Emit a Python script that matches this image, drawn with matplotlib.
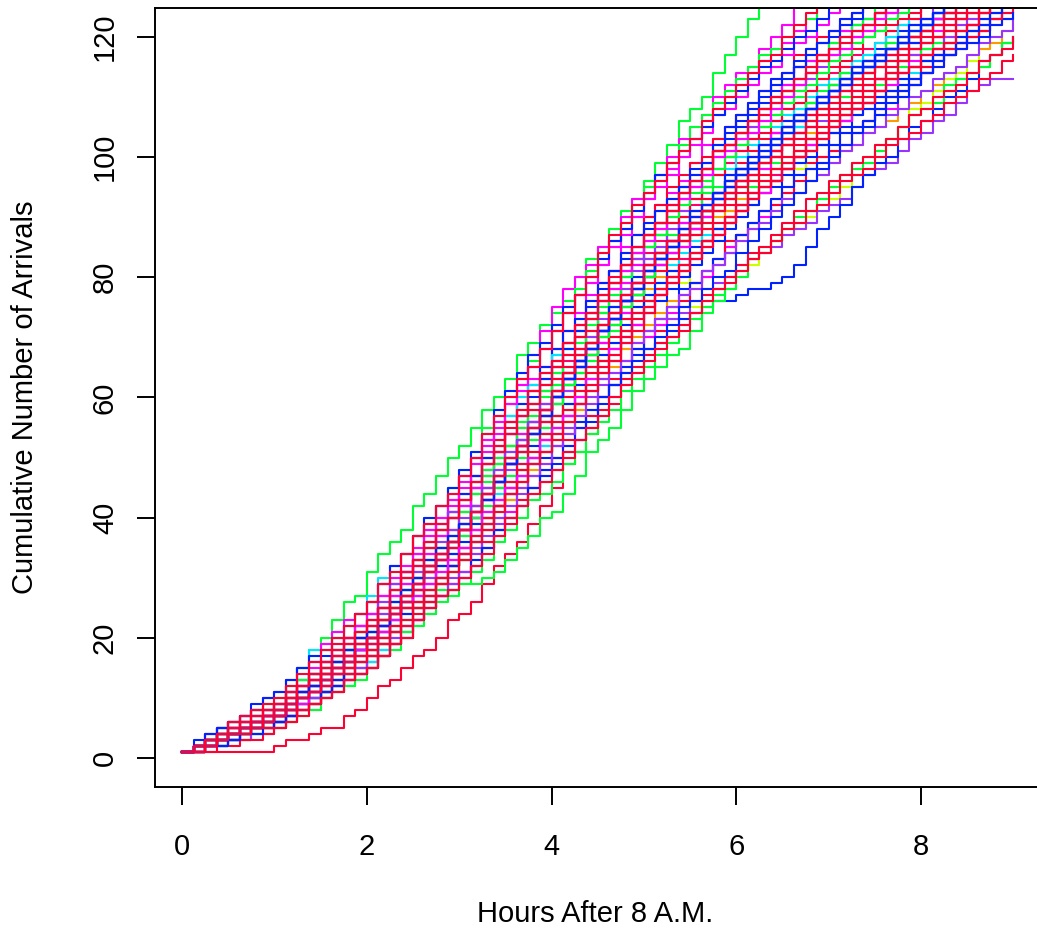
import numpy as np
import matplotlib
matplotlib.use('Agg')
from matplotlib import pyplot as plt

plt.rcParams['font.family'] = ['Liberation Sans', 'DejaVu Sans']

# arrivals in each eighth of an hour, one group of 8 digits per hour (0-9 h after 8 A.M.)
green_runs = [
    "11210211 23323314 32242332 33234232 24323323 33422433 32221321 12112102 21121121",
    "10110111 21122122 11120211 01122231 33422332 22133222 31221222 21122221 12211221",
    "01111120 21122212 23223223 42332332 23323323 13223121 12222221 12112111 11211112",
    "11101102 22211231 22233223 33322433 42233223 22133222 21221312 12112111 21111211",
    "10110111 12211221 22233132 23323324 32233323 22132221 22123121 12211211 21111211",
    "11011011 12211222 22233223 33422333 32232213 22123121 12211221 21122112 12211221",
    "01010101 11121112 22232232 33432333 33332333 23222322 22122212 21112111 12111211",
    "11011111 12222121 32223323 33233423 32323332 23221322 21222122 12112111 21111211",
    "11111111 22122122 23232322 33332333 32333233 22322312 22212222 12121221 21121111",
    "01110100 11211121 21222212 22322312 32322322 22312213 22122122 22121221 22111221",
    "11111111 22111221 22322312 23332332 33232323 32222222 21222212 21121112 21121111",
    "11121111 23212222 32333233 34333233 33332333 22332222 22122122 12121221 11211121",
]
magenta_runs = [
    "01112011 12223113 23334234 33433444 32231432 23322322 13223112 21122112 11211102",
    "11011110 12211222 23223213 33234233 23323323 22133122 21221221 12211102 21111211",
    "01211111 22123122 32233233 24334223 33322423 22233122 13211222 21111211 12110221",
    "01111001 11022112 21221322 32232232 23322332 22321322 21223112 12211222 21122112",
    "11111001 12211222 31233223 33234233 33243233 23322322 13223112 21122111 11211102",
    "01101111 21122221 22322313 23334232 33233224 22311322 22211222 12112112 11211102",
    "01111111 22122212 23322332 33333423 33232332 23222312 22212221 21121112 11211111",
    "11111111 22212222 33232333 33343333 33233323 32232322 22212221 21121112 11211111",
    "10111110 12122121 22332232 32333232 33223233 22132221 21221221 12112211 21111121",
    "11110111 21122112 22332222 33233233 32332323 23212222 12222221 21121112 12111211",
    "12101111 21221212 32232332 34233233 23332332 23222312 12222221 12121221 21121111",
    "12111121 22132212 33232323 33333333 33233233 22322312 22122122 21121112 11211121",
    "10111011 11212121 32222222 33222332 23323223 23212222 21222212 12121221 11212121",
]
blue_runs = [
    "11121011 22311222 32234123 33243233 23333223 32221322 22213112 21111211 12112111",
    "01111001 21111221 22132322 31232232 22132231 12211101 10112332 23221321 22123121",
    "01112011 11122122 31222332 23333224 33233233 22321222 13222112 21122111 11121111",
    "11201201 21221322 23223233 33342333 32332332 22231332 22212212 21111211 12112111",
    "10011110 11211211 22123122 13322332 23322333 22312213 22222113 21122112 12211221",
    "11011011 21122212 22233132 33322333 24322332 22123122 21221222 12211112 21111211",
    "01111011 21122122 13232232 23332432 32332342 22132231 12222112 21121121 12211211",
    "10011111 12211221 22312322 32233323 23322332 22131222 21122112 12112111 21111211",
    "10111011 21212122 22332322 33332332 32333223 22231222 22122121 12112112 21111211",
    "11110111 22212122 32233232 34233332 33323323 23322322 22212221 21211121 11121111",
    "11011011 12111211 22322312 23323223 32232332 22222222 22122122 22111221 12121221",
    "01111111 12212221 23223222 23332332 32332323 23212222 21222212 22111221 12112121",
    "21111211 22212222 33233233 33433323 32333233 32222222 22122122 12121221 11211121",
    "10011011 11121111 22132212 32322322 22333222 22312213 22222222 22122122 21221212",
    "11101111 12121221 23223222 32333233 33232323 22222222 12222221 12112121 21121111",
]
red_runs = [
    "00000001 10110212 21221231 23322333 42332324 32232232 13223112 21122112 12112111",
    "10110210 21122221 13322332 33234223 32332324 22311222 13212212 21111202 12112111",
    "11100111 12222112 32132322 33233233 24322332 22233132 22121321 21122112 12112111",
    "11021111 12223121 23323323 33244233 32332333 23221322 22123121 12112111 11121121",
    "01100111 11121121 12223122 23223223 32233332 22132231 22122221 12222122 21122112",
    "01111110 21122122 23223132 23334232 32233323 22132221 22123121 12112112 21111211",
    "01110211 12212212 22322333 42233332 23332432 22132231 21221222 12211111 21111211",
    "10110110 11122122 22311323 32233233 23322332 22132221 12222112 21121112 21111211",
    "01111011 12222112 22133223 23333224 32233223 22211312 21122112 12112111 11121121",
    "11101111 21222122 32332323 33423323 32332323 22322312 21221221 12112111 11211112",
    "00101011 11211211 22322332 33243233 33232333 22312222 22122122 21121112 21111211",
    "01111101 21221112 23223223 33232333 32332323 22312221 22121222 21121121 12111211",
    "11111011 21222221 33223323 33342332 33233232 23222312 22212221 21121112 11211111",
    "10101101 11121111 22132212 23223222 23232322 21223122 21222212 12121221 21122112",
    "11121111 22222222 32332323 34333233 33343232 23223222 22132212 22111221 11211121",
    "10111011 12112121 22312213 32322322 33232323 32222222 22122122 21122112 11212121",
    "11110111 22111221 32223222 33332333 33232323 22122122 12121221 12112121 11211121",
    "11011011 21121111 22222222 32332323 23332332 23222312 22212222 12121221 12112121",
    "11111111 21222212 23323223 33233233 23333332 22322312 22122122 12121221 12111211",
    "01110100 12111211 22132212 22332222 32223222 22132212 21221212 21122112 12112121",
]
pink_runs = [
    "01101101 12112112 22311332 23322332 32233323 22133122 22122221 21122112 12112111",
    "11101111 21212221 23232233 33323332 32332332 23212322 22121221 12112112 11211111",
    "01111101 11212121 23222312 32232332 23332332 23212222 21222212 21221212 12121221",
]
purple_runs = [
    "01101111 11211221 22132223 32233223 22311222 21122112 11121121 12211221 21221100",
    "11110111 21122122 13322223 32332423 33233223 22312212 22211222 21111211 12211111",
    "11011110 11122221 22322313 33233242 23322333 22312213 21221312 21111221 11121121",
    "11100111 11122221 32221323 33243223 23323323 22132122 12222112 21111211 12112111",
    "10101101 11212112 22132213 23223223 32232232 22213122 21221212 21212121 21122112",
    "01110111 21122121 22323223 33323333 33332332 23322322 22221222 21211212 11121111",
    "01010101 21111211 23212222 33232323 23333332 32222222 21222212 21122112 12112121",
    "11211101 21222212 33222332 32333233 33232323 23222312 22212222 22111221 12111211",
    "11110111 12212221 32322322 23332332 32232332 22312213 21222212 12121221 21121112",
]
yellow_runs = [
    "10110111 02211221 12223122 13322332 22312213 21221221 12211221 22132231 22122213",
    "01100111 11122112 22312213 23322332 32233233 22132231 22211312 12211221 21122112",
    "01111111 21122112 32223222 33232323 23323223 22312213 12222221 22111221 21121112",
]
cyan_runs = [
    "10011011 21111221 22132232 23323342 32233223 22312212 21221222 12211112 21111211",
    "10111101 11221231 22133223 32332324 23333223 22312213 12223121 21121121 12112111",
    "11011010 21121221 23222322 32332332 23323232 22132212 21212212 12121121 21121112",
    "12111121 22312213 32232332 23323223 22332222 22132212 22121221 12121221 21121112",
    "10101101 12111211 23222312 33233233 32333233 23223222 21223122 21122112 11211121",
]
orange_runs = [
    "10110111 11211221 22312223 32233233 23322332 22132231 22211312 12211221 21111211",
    "10011110 21111221 22133223 32233324 23323323 22312212 21221312 12211211 21111211",
    "10110101 12112121 22312231 32232332 23232322 22122122 21212212 21211212 12121121",
    "11101111 12121221 22333222 33232323 33222332 22222222 21222212 21122112 21121112",
]

# drawing order inside each round
groups = [
    (red_runs, '#FF0033'),
    (orange_runs, '#FF9900'),
    (blue_runs, '#0022FF'),
    (yellow_runs, '#CCFF00'),
    (green_runs, '#00FF33'),
    (magenta_runs, '#FF00FF'),
    (cyan_runs, '#00E5FF'),
    (purple_runs, '#9933FF'),
    (pink_runs, '#FF0066'),
]


def to_counts(run):
    inc = [int(ch) for ch in run if ch != ' ']
    return 1 + np.concatenate([[0], np.cumsum(inc)])


fig = plt.figure(figsize=(10.37, 9.35), dpi=100)
ax = fig.add_axes([155 / 1037, 1 - 787 / 935, (1039 - 155) / 1037, (787 - 8) / 935])

n_max = max(len(g[0]) for g in groups)
for i in range(n_max):
    for runs, col in groups:
        if i < len(runs):
            counts = to_counts(runs[i])
            hours = np.arange(len(counts)) * 0.125
            ax.step(hours, counts, where='post', color=col, linewidth=1.5)

ax.set_xlim(-0.292, 9.277)
ax.set_ylim(-4.8, 124.8)

ax.set_xticks([0, 2, 4, 6, 8])
ax.set_yticks([0, 20, 40, 60, 80, 100, 120])
ax.set_yticklabels(['0', '20', '40', '60', '80', '100', '120'], rotation=90, va='center')
ax.tick_params(axis='both', direction='out', length=13, width=1.4, labelsize=21, colors='black')
ax.tick_params(axis='x', pad=20)
ax.tick_params(axis='y', pad=13)
for sp in ax.spines.values():
    sp.set_linewidth(1.4)

fig.text(595 / 1037, 1 - 922 / 935, 'Hours After 8 A.M.', fontsize=21,
         ha='center', va='baseline')
fig.text(33 / 1037, 1 - 397 / 935, 'Cumulative Number of Arrivals', fontsize=21,
         ha='center', va='baseline', rotation=90, rotation_mode='anchor')

plt.savefig('out.png', dpi=100)
